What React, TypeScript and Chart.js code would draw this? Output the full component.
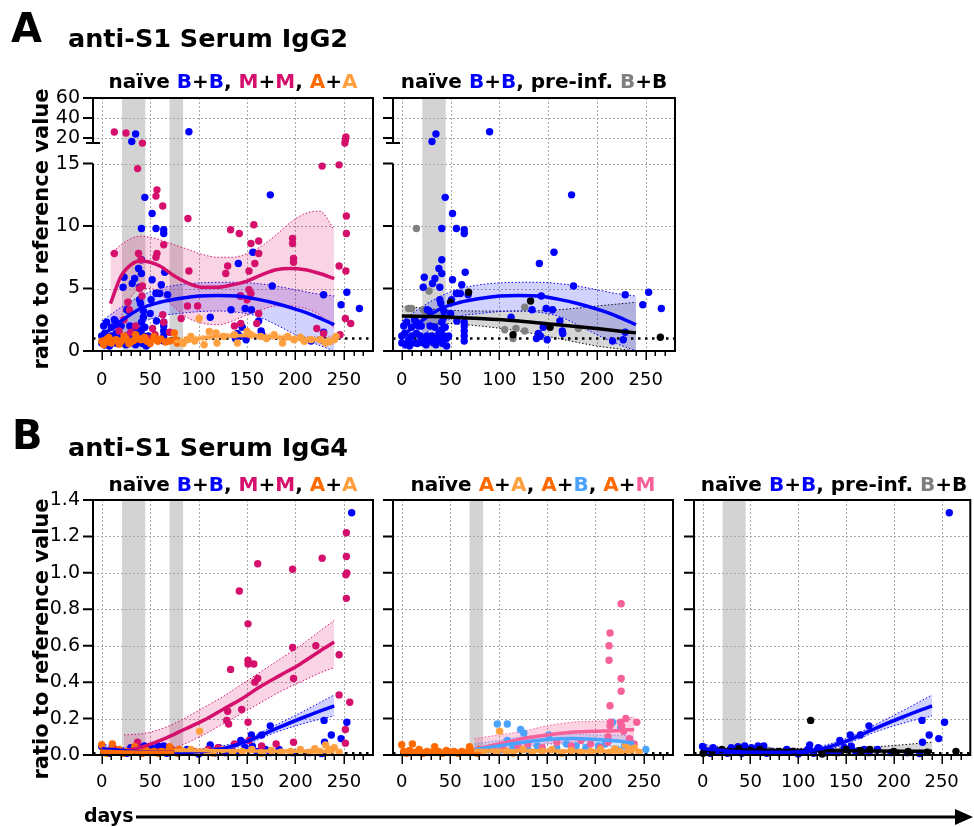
import React, { useEffect, useRef } from 'react';
import { Chart, registerables } from 'chart.js';
Chart.register(...registerables);
Chart.defaults.font.family = "'DejaVu Sans', sans-serif";

type Pt = [number, number];

// ---------------- axes / labels ----------------
const xTickLabels = [0, 50, 100, 150, 200, 250];
const xMin = -9;
const xMax = 280;
const yTicksIgG2 = [0, 5, 10, 15, 20, 40, 60];
const yTicksIgG4 = [0, 0.2, 0.4, 0.6, 0.8, 1.0, 1.2, 1.4];
const refLineIgG2 = 1;
const refLineIgG4 = 0.01;
const windowsBoth = [[21, 45], [70, 84]];
const windowsFirst = [[21, 45]];
const windowsSecond = [[70, 84]];

// ---------------- IgG2 points ----------------
const igg2_BB: Pt[] = [[31,19.3],[35,24],[90,26.3],[44.5,12.3],[52,11.0],[41,9.8],[56,9.8],[64,9.7],[64,9.4],[174,12.5],[156,7.9],[141,7.0],[41,7.3],[38,6.6],[41,6.2],[23,5.9],[34,5.8],[52,5.7],[65,6.3],[22,5.1],[31.5,5.4],[39,5.1],[61.5,5.3],[56,4.6],[60,4.6],[68,4.5],[176,5.2],[229,4.5],[253,4.7],[247,3.7],[266,3.4],[39,4.1],[40,3.8],[26,3.3],[28,3.2],[13,2.5],[43,3.2],[43,2.7],[51,4.1],[50,3.0],[56.5,2.4],[64,2.3],[64,2.0],[64,1.6],[64,1.2],[64,0.8],[112,2.7],[133.5,3.3],[148,3.4],[154.5,3.3],[162,2.4],[164.5,1.6],[165,1.4],[143,4.4],[138,1.0],[145,1.9],[149,0.9],[140,1.4],[142,1.2],[229,1.5],[216,0.8],[227,0.9],[0,1.2],[0,0.65],[3,1.4],[7,0.9],[10,1.2],[12,0.65],[15,1.4],[19,1.2],[22,0.65],[26,1.2],[27,0.9],[31,1.2],[32.5,0.65],[36,1.0],[38,1.4],[39,0.9],[41,1.7],[43,1.2],[46,1.0],[48,1.2],[2,2.0],[5,2.3],[10,1.9],[17,2.0],[20,2.0],[29,2.0],[34,1.9],[41,2.3],[44.5,1.9],[14,2.4],[4,0.5],[8,0.4],[16,0.6],[20,0.9],[25,0.5],[30,0.8],[35,0.5],[42,0.6],[46,0.4]];
const igg2_MM: Pt[] = [[13,26],[25,25],[42,19],[37,14.6],[57,12.9],[56,12.4],[63,11.6],[89,10.6],[13,7.8],[38,7.8],[57,7.8],[56,7.5],[64,8.5],[40.5,7.3],[42,5.2],[39,5.0],[27,3.9],[28.5,3.3],[23,2.5],[41.5,4.4],[52.5,1.8],[63,2.9],[64,2.3],[90,6.4],[88.5,3.6],[99,3.6],[82,2.6],[133,9.7],[142,9.4],[157,10.1],[162,8.8],[154,8.6],[162,7.8],[158,7.0],[152,6.4],[130,6.8],[128,6.2],[152,4.9],[154,4.6],[143.5,4.4],[150,4.1],[162,3.0],[137,2.0],[143.5,2.2],[152,1.3],[197,9.0],[197,8.6],[198,7.4],[198,7.1],[222,1.8],[227.5,14.8],[245,14.9],[252.5,10.8],[252.5,9.4],[245,6.8],[252,6.4],[251.5,2.6],[257,2.2],[252,21],[251.5,19.6],[251,19],[18,1.6],[26,1.2],[35,2.0],[48,1.0],[8,1.0],[30,1.5],[55,1.3],[70,1.5],[229,1.4],[246,1.3],[160,2.2]];
const igg2_Aprime: Pt[] = [[0,0.78],[4,0.91],[10,0.64],[15,0.91],[20,0.78],[25,0.96],[30,0.70],[37,1.04],[40.5,0.91],[47,0.78],[54,1.17],[58,0.78],[61,0.96],[66,0.72],[75,1.44],[76.5,0.91],[78,0.64],[2,0.5],[7,1.1],[12,0.85],[18,0.55],[23,1.2],[28,0.6],[33,0.85],[44,1.1],[50,0.6],[70,0.8],[35,1.3],[8,0.7],[45,0.95]];
const igg2_AA: Pt[] = [[100.5,2.6],[111,1.57],[119,0.64],[118,1.44],[126,1.17],[137,1.3],[150,1.57],[154,1.3],[164,1.17],[178,1.3],[192,1.17],[198.5,0.91],[209,0.78],[216,0.91],[226,0.91],[231,0.64],[240,0.91],[242,1.17],[88.5,0.91],[92,1.17],[105.7,0.51],[140,0.64],[186.6,0.64],[84,0.6],[96,0.8],[170,1.0],[205,1.1],[235,0.75]];
const igg2_preGray: Pt[] = [[15,9.8],[28,4.8],[7,3.4],[10,3.4],[22,3.3],[126,3.5],[105.5,1.7],[117,1.8],[126,1.6],[114,1.0],[181,1.8],[25,3.0]];
const igg2_preBlack: Pt[] = [[50,3.9],[68.5,4.7],[132,4.0],[114,1.3],[265,1.1],[152,1.9]];

// ---------------- IgG2 fits ----------------
const fitX_igg2_BB = [0,20,40,60,80,100,120,140,160,180,200,220,240];
const fit_igg2_BB = [1.2,2.4,3.4,3.9,4.2,4.4,4.45,4.4,4.15,3.8,3.35,2.8,2.1];
const lo_igg2_BB = [0.0,1.2,2.2,2.8,3.0,3.15,3.2,3.1,2.8,2.1,1.3,0.6,0.0];
const hi_igg2_BB = [2.4,3.5,4.4,5.0,5.3,5.45,5.5,5.5,5.4,5.2,4.9,4.6,4.4];
const fitX_igg2_MM = [9,20,30,40,50,60,75,90,105,120,135,150,165,180,195,210,225,240];
const fit_igg2_MM = [3.8,6.0,6.9,7.2,7.1,6.8,6.0,5.4,5.1,5.1,5.3,5.6,6.1,6.5,6.6,6.5,6.2,5.8];
const lo_igg2_MM = [0.8,2.8,4.3,5.0,5.0,4.6,3.5,2.6,2.2,2.1,2.4,2.9,3.3,3.6,3.6,3.4,2.9,1.8];
const hi_igg2_MM = [7.8,8.5,9.0,9.2,9.1,8.9,8.5,8.1,7.7,7.5,7.5,7.8,8.4,9.3,10.3,11.0,11.2,9.7];
const fitX_igg2_Aprime = [0,25,50,75];
const fit_igg2_Aprime = [0.8,0.82,0.85,0.82];
const lo_igg2_Aprime = [0.6,0.68,0.7,0.62];
const hi_igg2_Aprime = [1.0,0.96,1.0,1.02];
const fitX_igg2_AA = [75,100,125,150,175,200,225,240];
const fit_igg2_AA = [0.75,1.0,1.2,1.25,1.15,1.0,0.9,0.85];
const lo_igg2_AA = [0.45,0.8,1.0,1.05,0.95,0.8,0.65,0.5];
const hi_igg2_AA = [1.05,1.2,1.4,1.45,1.35,1.2,1.15,1.2];
const fitX_igg2_pre = [0,40,80,120,160,200,240];
const fit_igg2_pre = [2.8,2.75,2.6,2.4,2.1,1.8,1.45];
const lo_igg2_pre = [2.0,2.2,2.0,1.6,1.0,0.4,0.0];
const hi_igg2_pre = [3.6,3.3,3.2,3.2,3.3,3.6,3.9];

// ---------------- IgG4 points ----------------
const igg4_BB: Pt[] = [[258,1.33],[253,0.18],[247,0.09],[237,0.11],[229.5,0.19],[230,0.07],[174,0.16],[165,0.11],[154.5,0.11],[143.5,0.08],[112,0.055],[0,0.047],[3,0.02],[8,0.01],[11,0.04],[16,0.015],[21,0.02],[26,0.01],[30,0.04],[34,0.02],[37,0.045],[41,0.01],[44,0.05],[48,0.02],[51,0.04],[55,0.015],[58,0.05],[61,0.02],[64,0.05],[67,0.01],[73,0.017],[80,0.013],[88,0.03],[94,0.02],[101,0.011],[107,0.017],[116,0.01],[121,0.04],[128,0.013],[135,0.02],[141.5,0.013],[148,0.04],[155.5,0.048],[160,0.02],[169,0.03],[174,0.013],[183,0.03],[197,0.013],[214,0.013],[227,0.008],[110,0.03],[100,0.005]];
const igg4_MM: Pt[] = [[252.5,1.22],[252.5,1.09],[252,0.99],[253,1.0],[252.5,0.86],[227.5,1.08],[197,1.02],[161,1.05],[142,0.90],[151,0.72],[151,0.52],[151,0.50],[157,0.50],[161,0.42],[158,0.40],[133,0.47],[130,0.24],[129,0.19],[131,0.17],[144.5,0.25],[151,0.18],[197,0.59],[198,0.42],[221,0.60],[245,0.55],[245,0.33],[256,0.29],[251.5,0.14],[251.5,0.065],[198,0.07],[37,0.07],[152,0.08],[137,0.06],[5,0.02],[15,0.03],[25,0.02],[45,0.03],[60,0.02],[72,0.03],[95,0.02],[110,0.03],[120,0.04],[165,0.05],[180,0.06]];
const igg4_Aprime: Pt[] = [[0,0.056],[11,0.06],[34,0.045],[70,0.045],[2,0.02],[5,0.01],[8,0.025],[14,0.015],[18,0.03],[22,0.01],[26,0.02],[30,0.015],[38,0.02],[42,0.01],[46,0.025],[50,0.015],[54,0.02],[58,0.01],[62,0.02],[66,0.015],[74,0.02],[78,0.01],[80,0.03]];
const igg4_AA: Pt[] = [[101,0.13],[231,0.055],[85,0.02],[92,0.03],[98,0.015],[108,0.02],[115,0.01],[125,0.03],[135,0.015],[145,0.02],[155,0.03],[165,0.01],[175,0.025],[185,0.015],[195,0.02],[205,0.03],[215,0.015],[225,0.02],[235,0.03],[240,0.04],[245,0.015],[220,0.035]];
const igg4_AB: Pt[] = [[98.7,0.17],[109,0.17],[122.7,0.14],[126,0.12],[151.8,0.11],[217.6,0.18],[226,0.15],[235.7,0.07],[252,0.03],[203,0.05],[109,0.08],[90,0.03],[100,0.02],[115,0.04],[130,0.03],[140,0.05],[160,0.04],[170,0.06],[180,0.05],[190,0.04],[210,0.06],[222,0.03],[230,0.05]];
const igg4_AM: Pt[] = [[226.5,0.83],[215,0.67],[214,0.60],[214,0.52],[226.5,0.42],[226.5,0.35],[215,0.27],[231.3,0.20],[242.6,0.18],[215.5,0.18],[215,0.16],[226,0.18],[227,0.16],[229,0.13],[213,0.10],[213,0.07],[95,0.04],[105,0.03],[120,0.05],[130,0.06],[145,0.04],[160,0.07],[175,0.05],[185,0.08],[195,0.06],[205,0.04],[235,0.09],[240,0.06]];
const igg4_preBlack: Pt[] = [[0.5,0.01],[113,0.19],[125,0.005],[265,0.02],[20,0.03],[38,0.035],[60,0.03],[95,0.02],[150,0.03],[165,0.025],[200,0.02],[215,0.02],[235,0.015],[10,0.02],[50,0.025],[80,0.02],[175,0.03]];
const igg4_preGray: Pt[] = [[30,0.03],[70,0.025],[140,0.02]];

// ---------------- IgG4 fits ----------------
const fitX_igg4_BB = [0,30,60,90,120,150,180,210,240];
const fit_igg4_BB = [0.035,0.02,0.015,0.015,0.03,0.075,0.145,0.21,0.27];
const lo_igg4_BB = [0.01,0.005,0.0,0.0,0.015,0.06,0.125,0.175,0.215];
const hi_igg4_BB = [0.06,0.035,0.03,0.03,0.045,0.09,0.165,0.245,0.33];
const fitX_igg4_MM = [23,45,65,85,105,125,145,165,185,205,225,240];
const fit_igg4_MM = [0.02,0.05,0.09,0.14,0.19,0.25,0.31,0.38,0.44,0.50,0.57,0.62];
const lo_igg4_MM = [0.0,0.0,0.02,0.06,0.11,0.17,0.23,0.29,0.35,0.40,0.45,0.48];
const hi_igg4_MM = [0.11,0.12,0.15,0.2,0.26,0.32,0.39,0.46,0.53,0.6,0.68,0.74];
const fitX_igg4_Aprime = [0,25,50,75];
const fit_igg4_Aprime = [0.02,0.017,0.015,0.015];
const lo_igg4_Aprime = [0.01,0.008,0.006,0.005];
const hi_igg4_Aprime = [0.03,0.027,0.025,0.026];
const fitX_igg4_AA = [75,120,160,200,240];
const fit_igg4_AA = [0.025,0.024,0.022,0.02,0.018];
const lo_igg4_AA = [0.012,0.014,0.012,0.01,0.006];
const hi_igg4_AA = [0.04,0.034,0.032,0.03,0.03];
const fitX_igg4_AX = [75,100,125,150,175,200,225,240];
const fit_igg4_AB = [0.03,0.05,0.07,0.085,0.09,0.085,0.075,0.065];
const lo_igg4_AB = [0.0,0.02,0.04,0.06,0.06,0.055,0.04,0.03];
const hi_igg4_AB = [0.06,0.08,0.10,0.11,0.115,0.11,0.11,0.1];
const fit_igg4_AM = [0.03,0.06,0.09,0.11,0.125,0.13,0.135,0.14];
const lo_igg4_AM = [0.0,0.02,0.04,0.06,0.07,0.08,0.08,0.07];
const hi_igg4_AM = [0.09,0.11,0.13,0.16,0.18,0.185,0.19,0.21];
const fitX_igg4_pre = [0,60,120,180,240];
const fit_igg4_pre = [0.028,0.026,0.024,0.022,0.02];
const lo_igg4_pre = [0.012,0.014,0.012,0.006,0.0];
const hi_igg4_pre = [0.044,0.038,0.036,0.045,0.07];

// ---------------- styles ----------------
const C = {
  blue: '#0000ff', mag: '#d4106c', orange: '#ff6a00', lorange: '#ffa040',
  lblue: '#4aa3ff', pink: '#f7619a', gray: '#808080', black: '#000000',
};
const F = {
  blue: 'rgba(30,30,255,0.2)', mag: 'rgba(214,16,108,0.18)', orange: 'rgba(255,106,0,0.22)',
  lorange: 'rgba(255,160,64,0.3)', lblue: 'rgba(74,163,255,0.25)', pink: 'rgba(247,97,154,0.28)',
  gray: 'rgba(0,0,0,0.16)',
};

// broken axis mapping for IgG2 panels (15..20 compressed, 20..60 strongly compressed)
const brk = (v: number) => (v <= 15 ? v : v <= 20 ? 15 + (v - 15) * 0.41 : 17.05 + (v - 20) * 0.08);
const ident = (v: number) => v;

const toXY = (arr: Pt[], tf: (v: number) => number) => arr.map(([x, y]) => ({ x, y: tf(y) }));

function dots(arr: Pt[], color: string, order: number, tf: (v: number) => number) {
  return {
    data: toXY(arr, tf), showLine: false, pointRadius: 3.7, pointHoverRadius: 0,
    pointBackgroundColor: color, pointBorderColor: color, pointBorderWidth: 0, order, clip: false,
  };
}
function fit(xs: number[], mid: number[], lo: number[], hi: number[], color: string, fillColor: string, order: number, tf: (v: number) => number) {
  const mk = (ys: number[]) => xs.map((x, i) => ({ x, y: tf(ys[i]) }));
  const base = { pointRadius: 0, pointHoverRadius: 0, cubicInterpolationMode: 'monotone', clip: false };
  return [
    { ...base, data: mk(lo), borderColor: color, borderWidth: 1, borderDash: [1.5, 2], fill: false, order: 40 },
    { ...base, data: mk(hi), borderColor: color, borderWidth: 1, borderDash: [1.5, 2], fill: '-1', backgroundColor: fillColor, order: 40 },
    { ...base, data: mk(mid), borderColor: color, borderWidth: 3.5, fill: false, order },
  ];
}
function refLine(v: number, tf: (v: number) => number) {
  return {
    data: [{ x: xMin, y: tf(v) }, { x: xMax, y: tf(v) }], borderColor: '#000', borderWidth: 2.5,
    borderDash: [2.5, 4.5], pointRadius: 0, order: 30, fill: false,
  };
}

function framePlugin(windows: number[][], broken: boolean) {
  return {
    id: 'frame',
    beforeDatasetsDraw(chart: any) {
      const { ctx, chartArea: a, scales } = chart;
      const xs = scales.x, ys = scales.y;
      ctx.save();
      ctx.fillStyle = '#d3d3d3';
      for (const [s, e] of windows) {
        const x1 = xs.getPixelForValue(s), x2 = xs.getPixelForValue(e);
        ctx.fillRect(x1, a.top, x2 - x1, a.bottom - a.top);
      }
      ctx.strokeStyle = '#a8a8a8';
      ctx.lineWidth = 1;
      ctx.setLineDash([2, 2]);
      ctx.beginPath();
      for (const v of xTickLabels) {
        const px = Math.round(xs.getPixelForValue(v)) + 0.5;
        ctx.moveTo(px, a.top); ctx.lineTo(px, a.bottom);
      }
      for (const t of ys.ticks) {
        const py = Math.round(ys.getPixelForValue(t.value)) + 0.5;
        if (py > a.top + 2 && py < a.bottom - 2) { ctx.moveTo(a.left, py); ctx.lineTo(a.right, py); }
      }
      ctx.stroke();
      ctx.restore();
    },
    afterDraw(chart: any) {
      const { ctx, chartArea: a, scales } = chart;
      const xs = scales.x, ys = scales.y;
      ctx.save();
      ctx.strokeStyle = '#000';
      ctx.setLineDash([]);
      ctx.lineWidth = 2;
      ctx.lineCap = 'butt';
      ctx.beginPath();
      ctx.moveTo(a.left - 1, a.top); ctx.lineTo(a.right + 1, a.top);
      ctx.moveTo(a.right, a.top); ctx.lineTo(a.right, a.bottom);
      ctx.moveTo(a.left - 1, a.bottom); ctx.lineTo(a.right + 1, a.bottom);
      if (broken) {
        const pLow = ys.getPixelForValue(brk(15));
        const pUp = ys.getPixelForValue(brk(19));
        ctx.moveTo(a.left, a.bottom); ctx.lineTo(a.left, pLow);
        ctx.moveTo(a.left, a.top); ctx.lineTo(a.left, pUp);
        ctx.moveTo(a.left - 7, pUp); ctx.lineTo(a.left + 7, pUp);
      } else {
        ctx.moveTo(a.left, a.top); ctx.lineTo(a.left, a.bottom);
      }
      for (const t of ys.ticks) {
        const py = ys.getPixelForValue(t.value);
        ctx.moveTo(a.left - 10, py); ctx.lineTo(a.left, py);
      }
      ctx.stroke();
      ctx.lineWidth = 1.5;
      ctx.beginPath();
      for (let v = 0; v <= xMax - 5; v += 10) {
        const px = Math.round(xs.getPixelForValue(v)) + 0.25;
        const len = v % 50 === 0 ? 9 : 5;
        ctx.moveTo(px, a.bottom); ctx.lineTo(px, a.bottom + len);
      }
      ctx.stroke();
      ctx.restore();
    },
  };
}

type PanelProps = {
  rect: [number, number, number, number];
  build: () => any[];
  yTicks: number[];
  yTf: (v: number) => number;
  yFmt: (v: number) => string;
  showY: boolean;
  windows: number[][];
  broken: boolean;
  xPad: number;
  padRight?: number;
};

const zeroPad = (s: any) => { s.paddingTop = 0; s.paddingBottom = 0; s.paddingLeft = 0; s.paddingRight = 0; };

function Panel(p: PanelProps) {
  const ref = useRef<HTMLCanvasElement>(null);
  const L = 60, T = 16, B = 42;
  const R = p.padRight ?? 4;
  const [l, t, r, b] = p.rect;
  const width = r - l + L + R;
  const height = b - t + T + B;
  useEffect(() => {
    const yMax = p.yTf(p.yTicks[p.yTicks.length - 1]);
    const chart = new Chart(ref.current as HTMLCanvasElement, {
      type: 'line',
      data: { datasets: p.build() },
      options: {
        responsive: false,
        animation: false,
        events: [],
        layout: { padding: { left: 0, top: T, right: R, bottom: 0 } },
        plugins: { legend: { display: false }, tooltip: { enabled: false } },
        scales: {
          x: {
            type: 'linear', min: xMin, max: xMax,
            grid: { display: false, drawTicks: false }, border: { display: false },
            afterBuildTicks: (s: any) => { s.ticks = xTickLabels.map((v) => ({ value: v })); },
            afterFit: (s: any) => { s.height = B; zeroPad(s); },
            ticks: { autoSkip: false, maxRotation: 0, minRotation: 0, padding: p.xPad, color: '#000', font: { size: 18 },
              callback: (v: any) => String(v) },
          },
          y: {
            type: 'linear', min: 0, max: yMax,
            grid: { display: false, drawTicks: false }, border: { display: false },
            afterBuildTicks: (s: any) => { s.ticks = p.yTicks.map((v) => ({ value: p.yTf(v) })); },
            afterFit: (s: any) => { s.width = L; zeroPad(s); },
            ticks: { display: p.showY, autoSkip: false, padding: 13, color: '#000', font: { size: 19 },
              callback: (_v: any, i: number) => p.yFmt(p.yTicks[i]) },
          },
        },
      } as any,
      plugins: [framePlugin(p.windows, p.broken)],
    });
    return () => chart.destroy();
  }, []);
  return (
    <canvas ref={ref} width={width} height={height}
      style={{ position: 'absolute', left: l - L, top: t - T, width, height }} />
  );
}

const fmtIgG2 = (v: number) => String(v);
const fmtIgG4 = (v: number) => v.toFixed(1);

const buildA1 = () => [
  refLine(refLineIgG2, brk),
  dots(igg2_BB, C.blue, 24, brk),
  dots(igg2_MM, C.mag, 23, brk),
  dots(igg2_Aprime, C.orange, 22, brk),
  dots(igg2_AA, C.lorange, 21, brk),
  ...fit(fitX_igg2_MM, fit_igg2_MM, lo_igg2_MM, hi_igg2_MM, C.mag, F.mag, 12, brk),
  ...fit(fitX_igg2_BB, fit_igg2_BB, lo_igg2_BB, hi_igg2_BB, C.blue, F.blue, 11, brk),
  ...fit(fitX_igg2_Aprime, fit_igg2_Aprime, lo_igg2_Aprime, hi_igg2_Aprime, C.orange, F.orange, 10, brk),
  ...fit(fitX_igg2_AA, fit_igg2_AA, lo_igg2_AA, hi_igg2_AA, C.lorange, F.lorange, 10, brk),
];
const buildA2 = () => [
  refLine(refLineIgG2, brk),
  dots(igg2_preGray, C.gray, 23, brk),
  dots(igg2_BB, C.blue, 22, brk),
  dots(igg2_preBlack, C.black, 21, brk),
  ...fit(fitX_igg2_BB, fit_igg2_BB, lo_igg2_BB, hi_igg2_BB, C.blue, F.blue, 11, brk),
  ...fit(fitX_igg2_pre, fit_igg2_pre, lo_igg2_pre, hi_igg2_pre, C.black, F.gray, 10, brk),
];
const buildB1 = () => [
  refLine(refLineIgG4, ident),
  dots(igg4_BB, C.blue, 24, ident),
  dots(igg4_MM, C.mag, 23, ident),
  dots(igg4_Aprime, C.orange, 22, ident),
  dots(igg4_AA, C.lorange, 21, ident),
  ...fit(fitX_igg4_MM, fit_igg4_MM, lo_igg4_MM, hi_igg4_MM, C.mag, F.mag, 12, ident),
  ...fit(fitX_igg4_BB, fit_igg4_BB, lo_igg4_BB, hi_igg4_BB, C.blue, F.blue, 11, ident),
  ...fit(fitX_igg4_Aprime, fit_igg4_Aprime, lo_igg4_Aprime, hi_igg4_Aprime, C.orange, F.orange, 10, ident),
  ...fit(fitX_igg4_AA, fit_igg4_AA, lo_igg4_AA, hi_igg4_AA, C.lorange, F.lorange, 10, ident),
];
const buildB2 = () => [
  refLine(refLineIgG4, ident),
  dots(igg4_AB, C.lblue, 24, ident),
  dots(igg4_AM, C.pink, 23, ident),
  dots(igg4_AA, C.lorange, 22, ident),
  dots(igg4_Aprime, C.orange, 21, ident),
  ...fit(fitX_igg4_AX, fit_igg4_AM, lo_igg4_AM, hi_igg4_AM, C.pink, F.pink, 12, ident),
  ...fit(fitX_igg4_AX, fit_igg4_AB, lo_igg4_AB, hi_igg4_AB, C.lblue, F.lblue, 11, ident),
  ...fit(fitX_igg4_AA, fit_igg4_AA, lo_igg4_AA, hi_igg4_AA, C.lorange, F.lorange, 10, ident),
  ...fit(fitX_igg4_Aprime, fit_igg4_Aprime, lo_igg4_Aprime, hi_igg4_Aprime, C.orange, F.orange, 10, ident),
];
const buildB3 = () => [
  refLine(refLineIgG4, ident),
  dots(igg4_preGray, C.gray, 24, ident),
  dots(igg4_BB, C.blue, 23, ident),
  dots(igg4_preBlack, C.black, 22, ident),
  ...fit(fitX_igg4_pre, fit_igg4_pre, lo_igg4_pre, hi_igg4_pre, C.black, F.gray, 11, ident),
  ...fit(fitX_igg4_BB, fit_igg4_BB, lo_igg4_BB, hi_igg4_BB, C.blue, F.blue, 10, ident),
];

const FONT = "'DejaVu Sans', sans-serif";

export default function App() {
  const sub = { fontSize: 20, fontWeight: 700 as const, textAnchor: 'middle' as const };
  return (
    <div style={{ position: 'absolute', left: 0, top: 0, width: 974, height: 827, overflow: 'hidden', background: '#fff' }}>
      <Panel rect={[93, 98, 373, 351]} build={buildA1} yTicks={yTicksIgG2} yTf={brk} yFmt={fmtIgG2} showY windows={windowsBoth} broken xPad={19} />
      <Panel rect={[393, 98, 675, 351]} build={buildA2} yTicks={yTicksIgG2} yTf={brk} yFmt={fmtIgG2} showY={false} windows={windowsFirst} broken xPad={19} />
      <Panel rect={[93, 500, 373, 755]} build={buildB1} yTicks={yTicksIgG4} yTf={ident} yFmt={fmtIgG4} showY windows={windowsBoth} broken={false} xPad={17} />
      <Panel rect={[393, 500, 673, 755]} build={buildB2} yTicks={yTicksIgG4} yTf={ident} yFmt={fmtIgG4} showY={false} windows={windowsSecond} broken={false} xPad={17} />
      <Panel rect={[694, 500, 973, 755]} build={buildB3} yTicks={yTicksIgG4} yTf={ident} yFmt={fmtIgG4} showY={false} windows={windowsFirst} broken={false} xPad={17} padRight={1} />
      <svg width={974} height={827} style={{ position: 'absolute', left: 0, top: 0, pointerEvents: 'none' }}
        fontFamily={FONT} fill="#000">
        <text x={11} y={41.5} fontSize={40} fontWeight={700}>A</text>
        <text x={68} y={47} fontSize={25.5} fontWeight={700}>anti-S1 Serum IgG2</text>
        <text x={12} y={449} fontSize={40} fontWeight={700}>B</text>
        <text x={68} y={456} fontSize={25.5} fontWeight={700}>anti-S1 Serum IgG4</text>

        <text x={233} y={87.5} {...sub} style={{ whiteSpace: 'pre' }}>
          <tspan>naïve </tspan><tspan fill={C.blue}>B</tspan><tspan>+</tspan><tspan fill={C.blue}>B</tspan><tspan>, </tspan>
          <tspan fill={C.mag}>M</tspan><tspan>+</tspan><tspan fill={C.mag}>M</tspan><tspan>, </tspan>
          <tspan fill={C.orange}>A</tspan><tspan>+</tspan><tspan fill={C.lorange}>A</tspan>
        </text>
        <text x={534} y={87.5} {...sub} style={{ whiteSpace: 'pre' }}>
          <tspan>naïve </tspan><tspan fill={C.blue}>B</tspan><tspan>+</tspan><tspan fill={C.blue}>B</tspan><tspan>, pre-inf. </tspan>
          <tspan fill={C.gray}>B</tspan><tspan>+B</tspan>
        </text>
        <text x={233} y={490.5} {...sub} style={{ whiteSpace: 'pre' }}>
          <tspan>naïve </tspan><tspan fill={C.blue}>B</tspan><tspan>+</tspan><tspan fill={C.blue}>B</tspan><tspan>, </tspan>
          <tspan fill={C.mag}>M</tspan><tspan>+</tspan><tspan fill={C.mag}>M</tspan><tspan>, </tspan>
          <tspan fill={C.orange}>A</tspan><tspan>+</tspan><tspan fill={C.lorange}>A</tspan>
        </text>
        <text x={533} y={490.5} {...sub} style={{ whiteSpace: 'pre' }}>
          <tspan>naïve </tspan><tspan fill={C.orange}>A</tspan><tspan>+</tspan><tspan fill={C.lorange}>A</tspan><tspan>, </tspan>
          <tspan fill={C.orange}>A</tspan><tspan>+</tspan><tspan fill={C.lblue}>B</tspan><tspan>, </tspan>
          <tspan fill={C.orange}>A</tspan><tspan>+</tspan><tspan fill={C.pink}>M</tspan>
        </text>
        <text x={834} y={490.5} {...sub} style={{ whiteSpace: 'pre' }}>
          <tspan>naïve </tspan><tspan fill={C.blue}>B</tspan><tspan>+</tspan><tspan fill={C.blue}>B</tspan><tspan>, pre-inf. </tspan>
          <tspan fill={C.gray}>B</tspan><tspan>+B</tspan>
        </text>

        <text transform="translate(48,229) rotate(-90)" fontSize={21} fontWeight={700} textAnchor="middle">ratio to reference value</text>
        <text transform="translate(48,639) rotate(-90)" fontSize={21} fontWeight={700} textAnchor="middle">ratio to reference value</text>

        <text x={84} y={822} fontSize={19} fontWeight={700}>days</text>
        <line x1={136} y1={817} x2={958} y2={817} stroke="#000" strokeWidth={3} />
        <polygon points="955,809 973,817 955,825" fill="#000" />
      </svg>
    </div>
  );
}
